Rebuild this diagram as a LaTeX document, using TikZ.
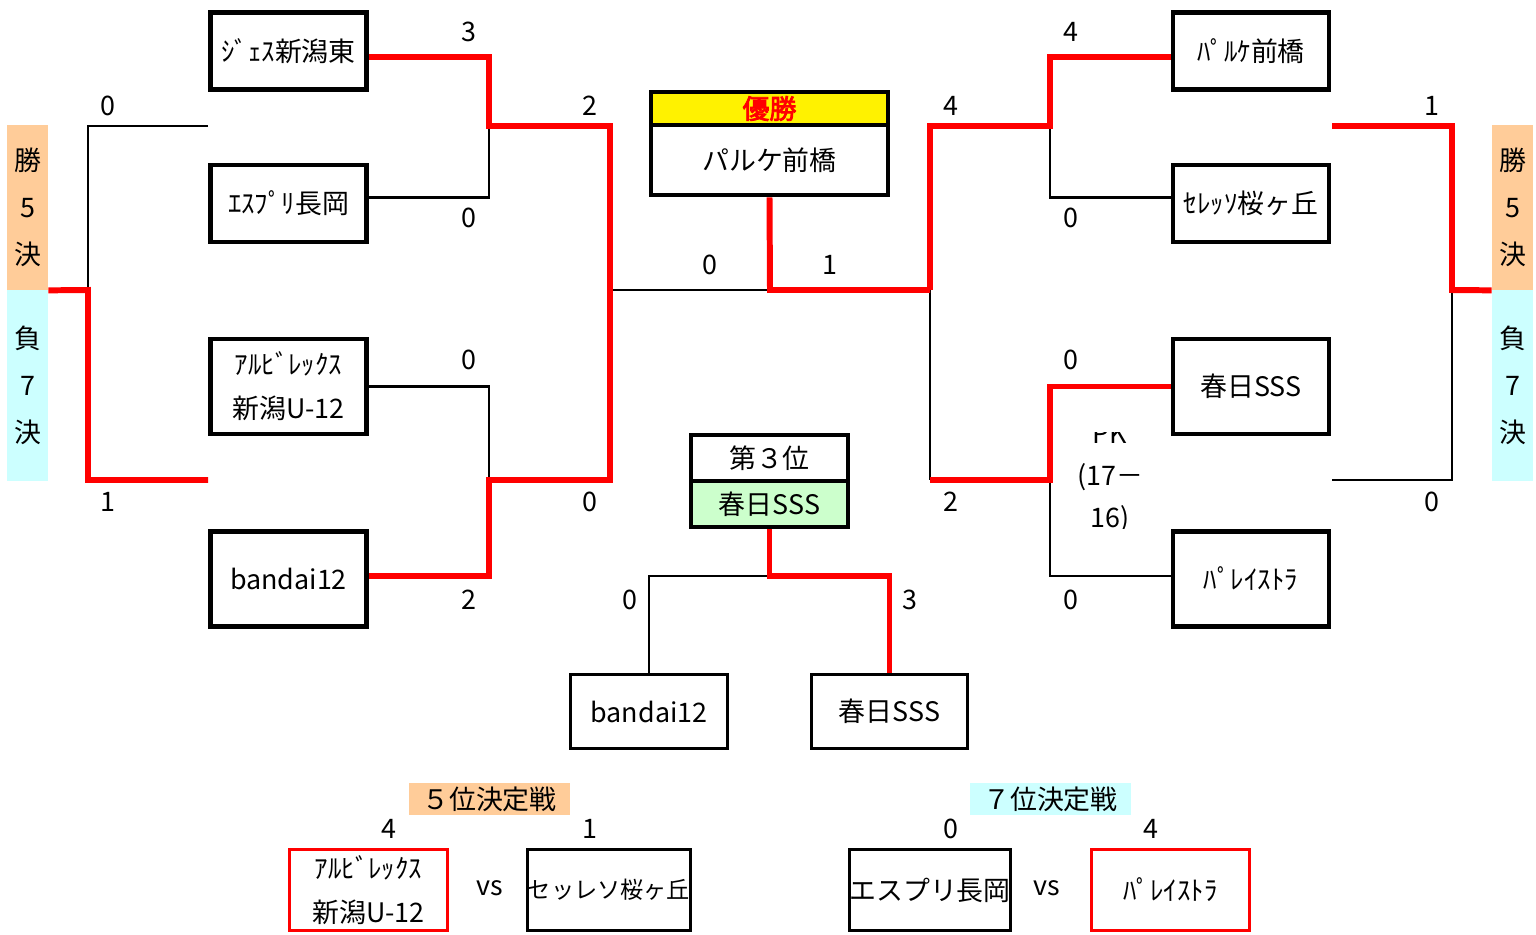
\documentclass[tikz,border=0pt]{standalone}
\usepackage{fontspec}
\setmainfont{Noto Sans CJK JP}[AutoFakeBold=3]
\definecolor{peach}{RGB}{255,204,153}
\definecolor{pale}{RGB}{204,255,255}
\definecolor{mint}{RGB}{204,255,204}

\begin{document}
\begin{tikzpicture}[x=0.02cm, y=-0.02cm,
  font=\fontsize{15.3}{25}\selectfont,
  team/.style={draw, line width=2.6pt, minimum width=3.12cm,
    minimum height=1.54cm, inner sep=0pt, align=center},
  tall/.style={team, minimum height=1.9cm},
  game/.style={draw, line width=1.7pt, minimum width=3.14cm,
    minimum height=1.48cm, inner sep=0pt, align=center},
  final/.style={game, minimum width=3.16cm, minimum height=1.62cm},
  win/.style={draw=red, line width=3.4pt},
  lose/.style={draw=black, line width=1.4pt},
  tag/.style={inner sep=0pt, minimum width=0.82cm, align=center,
    font=\fontsize{15.3}{26.6}\selectfont},
  head/.style={inner sep=0pt, minimum width=3.22cm, minimum height=0.64cm}]
  \useasboundingbox (0,0) rectangle (1536,934);

  % side tags
  \node[tag, fill=peach, minimum height=3.3cm] (winL) at (27.5,207.5) {勝\\5\\決};
  \node[tag, fill=pale, minimum height=3.82cm] (loseL) at (27.5,385.5) {負\\7\\決};
  \node[tag, fill=peach, minimum height=3.3cm] (winR) at (1512.5,207.5) {勝\\5\\決};
  \node[tag, fill=pale, minimum height=3.82cm] (loseR) at (1512.5,385.5) {負\\7\\決};

  % teams
  \node[team] (jes) at (288.5,51) {ｼﾞｪｽ新潟東};
  \node[team] (esp) at (288.5,203.5) {ｴｽﾌﾟﾘ長岡};
  \node[tall] (alb) at (288.5,386.5) {ｱﾙﾋﾞﾚｯｸｽ\\新潟U-12};
  \node[tall] (ban) at (288.5,579) {bandai12};
  \node[team] (par) at (1251,51) {ﾊﾟﾙｹ前橋};
  \node[team] (cer) at (1251,203.5) {ｾﾚｯｿ桜ヶ丘};
  \node[tall] (kas) at (1251,386.5) {春日SSS};
  \node[tall] (pal) at (1251,579) {ﾊﾟﾚｲｽﾄﾗ};

  % champion and third place
  \node[draw, line width=2.6pt, fill=yellow, minimum width=4.74cm,
    minimum height=0.66cm, inner sep=0pt, text=red, font=\fontsize{15.3}{18}\bfseries]
    (champT) at (769.5,108.5) {優勝};
  \node[draw, line width=2.6pt, minimum width=4.74cm, minimum height=1.4cm,
    inner sep=0pt] (champ) at (769.5,160) {パルケ前橋};
  \node[draw, line width=2.6pt, minimum width=3.14cm, minimum height=0.92cm,
    inner sep=0pt] (thT) at (769.5,458) {第３位};
  \node[draw, line width=2.6pt, fill=mint, minimum width=3.14cm,
    minimum height=0.92cm, inner sep=0pt] (thB) at (769.5,504) {春日SSS};
  \node[game] (ban3) at (649,711.5) {bandai12};
  \node[game] (kas3) at (889.5,711.5) {春日SSS};

  % joints
  \coordinate (l1) at (489,126);
  \coordinate (l2) at (489,480);
  \coordinate (lc) at (610,290);
  \coordinate (fin) at (770,290);
  \coordinate (rc) at (930,290);
  \coordinate (rj) at (930,480);
  \coordinate (r1) at (1050,126);
  \coordinate (r2) at (1050,480);
  \coordinate (l5a) at (208,126);
  \coordinate (l5b) at (208,480);
  \coordinate (l5) at (88,290);
  \coordinate (r5a) at (1332,126);
  \coordinate (r5b) at (1332,480);
  \coordinate (r5) at (1452,290);
  \coordinate (j3) at (770,576);

  % left half
  \draw[lose] ([yshift=.12cm]esp.east) -| (l1);
  \draw[lose] (alb.east) -| (l2);
  \draw[lose] (lc) -- (fin);
  \draw[win] ([yshift=-.12cm]jes.east) -| (l1) -| (lc);
  \draw[win] ([yshift=.06cm]ban.east) -| (l2) -| (lc);

  % right half
  \draw[lose] ([yshift=.12cm]cer.west) -| (r1);
  \draw[lose] (rc) -- (rj);
  \draw[lose] ([yshift=.06cm]pal.west) -| (r2);
  \draw[win] (champ.south) -- (fin) -- (rc);
  \draw[win] (rc) |- (r1) |- ([yshift=-.12cm]par.west);
  \draw[win] (rj) -- (r2) |- (kas.west);

  % places 5 to 8
  \draw[lose] (l5a) -| (l5);
  \draw[win] (l5b) -| (l5) -- (winL.south east);
  \draw[lose] (r5b) -| (r5);
  \draw[win] (r5a) -| (r5) -- (winR.south west);

  % third place
  \draw[lose] (j3) -| (ban3.north);
  \draw[win] (thB.south) |- (j3) -| (kas3.north);

  % scores
  \foreach \x/\y/\s [count=\i] in {469/32/3, 590/106/2, 469/218/0, 469/360/0,
    469/600/2, 590/502/0, 710/265/0, 830/265/1, 951/106/4, 1071/32/4,
    1071/218/0, 1071/360/0, 951/502/2, 1071/600/0, 108/106/0, 108/502/1,
    1432/106/1, 1432/502/0, 630/600/0, 910/600/3, 389/829/4, 590/829/1,
    951/829/0, 1151/829/4}
    \node[inner sep=0pt] (s\i) at (\x,\y) {\s};

  % penalty kicks
  \begin{scope}
    \clip (1056,432) rectangle (1165,528);
    \node[align=center, font=\fontsize{15.3}{23.8}\selectfont] (pk) at (1110,478)
      {PK\\(17－\\16)};
  \end{scope}

  % play-offs
  \node[head, fill=peach] (h5) at (489.5,799) {５位決定戦};
  \node[head, fill=pale] (h7) at (1050.5,799) {７位決定戦};
  \node[final, draw=red] (alb5) at (368.5,890) {ｱﾙﾋﾞﾚｯｸｽ\\新潟U-12};
  \node[final] (cer5) at (609,890) {\fontsize{13.2}{16}\selectfont セッレソ桜ヶ丘};
  \node (vs5) at (490,888) {vs};
  \node[final] (esp7) at (930,890) {エスプリ長岡};
  \node[final, draw=red] (pal7) at (1170.5,890) {ﾊﾟﾚｲｽﾄﾗ};
  \node (vs7) at (1047,888) {vs};
\end{tikzpicture}
\end{document}
